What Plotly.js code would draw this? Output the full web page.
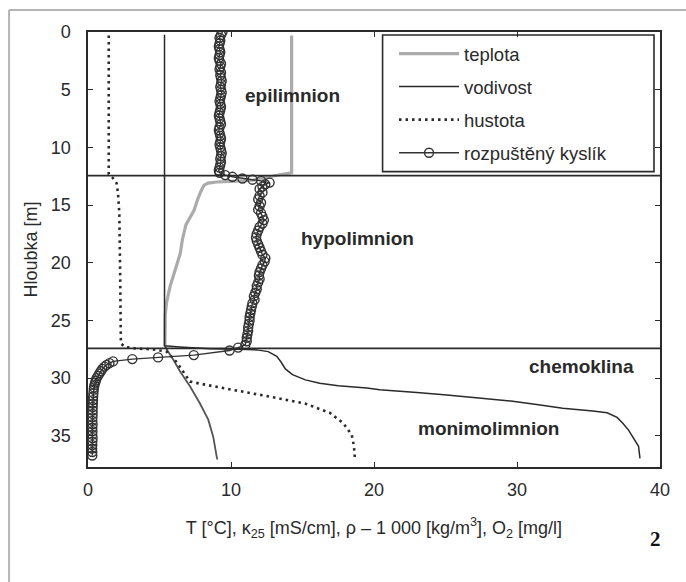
<!DOCTYPE html>
<html>
<head>
<meta charset="utf-8">
<script src="https://cdn.plot.ly/plotly-3.0.1.min.js"></script>
<style>html,body{margin:0;padding:0;background:#fff}#chart{width:686px;height:582px}</style>
</head>
<body>
<div id="chart"></div>
<script>
// Temperature (teplota), upper part (grey) and lower part
const tempDepth = [0.3, 12.2, 12.35, 12.6, 12.85, 12.95, 13.0, 13.1, 13.3, 13.8, 14.4, 15.5, 16.7, 18.0, 19.2, 20.6, 22.0, 23.4, 24.5, 27.2];
const tempValue = [14.24, 14.24, 13.5, 12.5, 11.5, 10.0, 9.0, 8.4, 8.1, 7.9, 7.7, 7.4, 6.85, 6.6, 6.45, 6.1, 5.75, 5.5, 5.4, 5.38];
const tempLowDepth = [27.2, 27.6, 28.4, 29.4, 30.7, 32.2, 33.6, 35.1, 36.8, 37.05];
const tempLowValue = [5.38, 5.55, 5.97, 6.43, 7.13, 7.83, 8.41, 8.76, 9.0, 9.05];

// Conductivity (vodivost)
const condDepth = [0.23, 27.2, 27.3, 27.45, 27.5, 27.55, 27.7, 28.1, 28.6, 29.2, 29.7, 30.15, 30.45, 30.65, 30.85, 31.0, 31.25, 31.45, 31.75, 32.0, 32.3, 32.6, 32.85, 33.0, 33.4, 33.9, 34.5, 35.1, 35.9, 36.95];
const condValue = [5.35, 5.35, 6.4, 8.5, 10.4, 11.8, 12.6, 13.2, 13.5, 13.8, 14.3, 15.2, 16.2, 17.5, 19.5, 20.4, 23.0, 25.1, 27.5, 29.7, 31.5, 33.2, 35.3, 36.3, 37.0, 37.4, 37.8, 38.1, 38.5, 38.6];

// Density (hustota)
const densDepth = [0.3, 12.3, 12.6, 13.1, 14.0, 15.7, 20.0, 26.7, 27.0, 27.3, 27.45, 27.5, 27.7, 28.6, 29.5, 30.3, 30.7, 31.2, 31.66, 32.2, 33.0, 33.9, 34.9, 35.9, 37.1];
const densValue = [1.45, 1.45, 1.7, 2.0, 2.1, 2.19, 2.24, 2.28, 2.3, 2.6, 3.5, 4.5, 5.5, 6.2, 6.7, 7.13, 8.76, 11.1, 12.96, 15.17, 16.9, 17.85, 18.44, 18.6, 18.67];

// Dissolved oxygen (rozpuštěný kyslík)
const oxyDepth = [0.0, 0.25, 0.5, 0.75, 1.0, 1.25, 1.5, 1.75, 2.0, 2.25, 2.5, 2.75, 3.0, 3.25, 3.5, 3.75, 4.0, 4.25, 4.5, 4.75, 5.0, 5.25, 5.5, 5.75, 6.0, 6.25, 6.5, 6.75, 7.0, 7.25, 7.5, 7.75, 8.0, 8.25, 8.5, 8.75, 9.0, 9.25, 9.5, 9.75, 10.0, 10.25, 10.5, 10.75, 11.0, 11.25, 11.5, 11.75, 12.0, 12.2, 12.4, 12.55, 12.7, 12.8, 12.9, 13.05, 13.2, 13.4, 13.6, 13.9, 14.2, 14.5, 14.8, 15.1, 15.4, 15.7, 16.0, 16.3, 16.6, 16.9, 17.2, 17.5, 17.8, 18.1, 18.4, 18.7, 19.0, 19.3, 19.6, 19.9, 20.2, 20.5, 20.8, 21.1, 21.4, 21.7, 22.0, 22.3, 22.6, 22.9, 23.2, 23.5, 23.8, 24.1, 24.4, 24.7, 25.0, 25.3, 25.6, 25.9, 26.2, 26.5, 26.8, 27.1, 27.35, 27.6, 28.0, 28.2, 28.35, 28.55, 28.7, 28.85, 29.0, 29.2, 29.4, 29.6, 29.8, 30.0, 30.2, 30.4, 30.6, 30.8, 31.0, 31.3, 31.6, 31.9, 32.2, 32.5, 32.8, 33.1, 33.4, 33.7, 34.0, 34.3, 34.6, 34.9, 35.2, 35.5, 35.8, 36.1, 36.4, 36.7, 37.0];
const oxyValue = [9.4, 9.3, 9.2, 9.25, 9.2, 9.15, 9.2, 9.25, 9.2, 9.15, 9.2, 9.3, 9.25, 9.2, 9.3, 9.25, 9.3, 9.35, 9.3, 9.25, 9.3, 9.35, 9.3, 9.25, 9.2, 9.25, 9.3, 9.25, 9.2, 9.15, 9.2, 9.25, 9.3, 9.2, 9.15, 9.2, 9.25, 9.3, 9.25, 9.2, 9.25, 9.3, 9.35, 9.3, 9.25, 9.3, 9.25, 9.2, 9.15, 9.2, 9.6, 10.1, 10.8, 11.5, 12.1, 12.7, 12.4, 12.2, 12.0, 12.2, 12.0, 11.9, 12.1, 12.0, 11.9, 12.1, 12.2, 12.3, 12.2, 12.0, 11.9, 11.8, 11.75, 11.8, 11.9, 12.0, 12.1, 12.2, 12.4, 12.35, 12.2, 12.1, 12.0, 11.95, 12.0, 11.9, 11.8, 11.8, 11.7, 11.6, 11.65, 11.5, 11.45, 11.4, 11.35, 11.3, 11.3, 11.25, 11.2, 11.2, 11.15, 11.1, 11.1, 11.0, 10.5, 9.9, 7.4, 4.9, 3.1, 1.75, 1.5, 1.3, 1.15, 1.0, 0.9, 0.8, 0.7, 0.6, 0.55, 0.5, 0.45, 0.42, 0.4, 0.38, 0.36, 0.35, 0.34, 0.33, 0.32, 0.32, 0.31, 0.3, 0.32, 0.3, 0.31, 0.3, 0.32, 0.3, 0.3, 0.29, 0.3, 0.3];

const layerBounds = [12.45, 27.42];
const zoneNames = ['epilimnion', 'hypolimnion', 'chemoklina', 'monimolimnion'];
const zoneX = [14.3, 18.85, 34.5, 28.0];
const zoneY = [5.5, 17.9, 29.0, 34.4];
const xTicks = [0, 10, 20, 30, 40];
const yTicks = [0, 5, 10, 15, 20, 25, 30, 35];

const FONT = 'Liberation Sans, Arial, sans-serif';
const INK = '#2a2a2a';

const traces = [
  {x: tempValue, y: tempDepth, name: 'teplota', legendgroup: 'a', mode: 'lines',
   line: {color: '#ababab', width: 3.2}},
  {x: tempLowValue, y: tempLowDepth, name: 'teplota', legendgroup: 'a', showlegend: false, mode: 'lines',
   line: {color: '#555', width: 1.8}},
  {x: condValue, y: condDepth, name: 'vodivost', legendgroup: 'b', mode: 'lines',
   line: {color: '#2a2a2a', width: 1.5}},
  {x: densValue, y: densDepth, name: 'hustota', legendgroup: 'c', mode: 'lines',
   line: {color: '#2a2a2a', width: 2.6, dash: '2.5px,4px'}},
  {x: oxyValue, y: oxyDepth, name: 'rozpuštěný kyslík', legendgroup: 'd', mode: 'lines+markers',
   line: {color: '#333', width: 1.4},
   marker: {symbol: 'circle-open', size: 9, color: '#333', line: {width: 1.4, color: '#333'}}}
];

const shapes = layerBounds.map(b => ({type: 'line', xref: 'paper', x0: 0, x1: 1, yref: 'y', y0: b, y1: b,
  line: {color: INK, width: 1.6}}));
// legend frame
shapes.push({type: 'rect', xref: 'paper', yref: 'paper', x0: 0.515, x1: 0.9895, y0: 0.679, y1: 0.993,
  line: {color: INK, width: 1.6}, fillcolor: 'rgba(0,0,0,0)', layer: 'above'});
// outer page frame (left and top)
shapes.push({type: 'line', xref: 'paper', yref: 'paper', x0: -0.138, x1: -0.138, y0: -0.3, y1: 1.0506,
  line: {color: '#b5b5b5', width: 2}});
shapes.push({type: 'line', xref: 'paper', yref: 'paper', x0: -0.138, x1: 1.1, y0: 1.0506, y1: 1.0506,
  line: {color: '#b5b5b5', width: 2}});

const annotations = zoneNames.map((t, i) => ({text: '<b>' + t + '</b>', x: zoneX[i], y: zoneY[i],
  xref: 'x', yref: 'y', showarrow: false, font: {family: FONT, size: 19, color: INK}}));
annotations.push({text: '<b>2</b>', xref: 'paper', yref: 'paper', x: (663 - 88) / 572, y: (467 - 553) / 435,
  showarrow: false, font: {family: 'Liberation Serif, DejaVu Serif, serif', size: 21, color: '#111'}});

const layout = {
  width: 686, height: 582,
  margin: {l: 88, r: 26, t: 32, b: 115},
  paper_bgcolor: '#fff', plot_bgcolor: '#fff',
  font: {family: FONT, size: 18, color: INK},
  showlegend: true,
  legend: {x: 0.535, y: 0.993, xanchor: 'left', yanchor: 'top', bgcolor: 'rgba(0,0,0,0)',
    borderwidth: 0, font: {family: FONT, size: 18.5, color: INK}, traceorder: 'grouped', tracegroupgap: 6,
    itemwidth: 60},
  xaxis: {range: [0, 40], tickvals: xTicks, ticks: 'inside', ticklen: 5, tickcolor: INK,
    showline: true, linecolor: INK, linewidth: 1.6, mirror: 'ticks', showgrid: false, zeroline: false,
    ticklabelstandoff: 6,
    title: {text: 'T [°C], κ<sub>25</sub> [mS/cm], ρ – 1 000 [kg/m<sup>3</sup>], O<sub>2</sub> [mg/l]',
      font: {family: FONT, size: 18, color: INK}, standoff: 22}},
  yaxis: {range: [37.7, 0], tickvals: yTicks, ticks: 'inside', ticklen: 5, tickcolor: INK,
    showline: true, linecolor: INK, linewidth: 1.6, mirror: 'ticks', showgrid: false, zeroline: false,
    ticklabelstandoff: 12,
    title: {text: 'Hloubka [m]', font: {family: FONT, size: 18, color: INK}, standoff: 8}},
  shapes: shapes,
  annotations: annotations
};

Plotly.newPlot('chart', traces, layout, {displayModeBar: false, staticPlot: true});
</script>
</body>
</html>
